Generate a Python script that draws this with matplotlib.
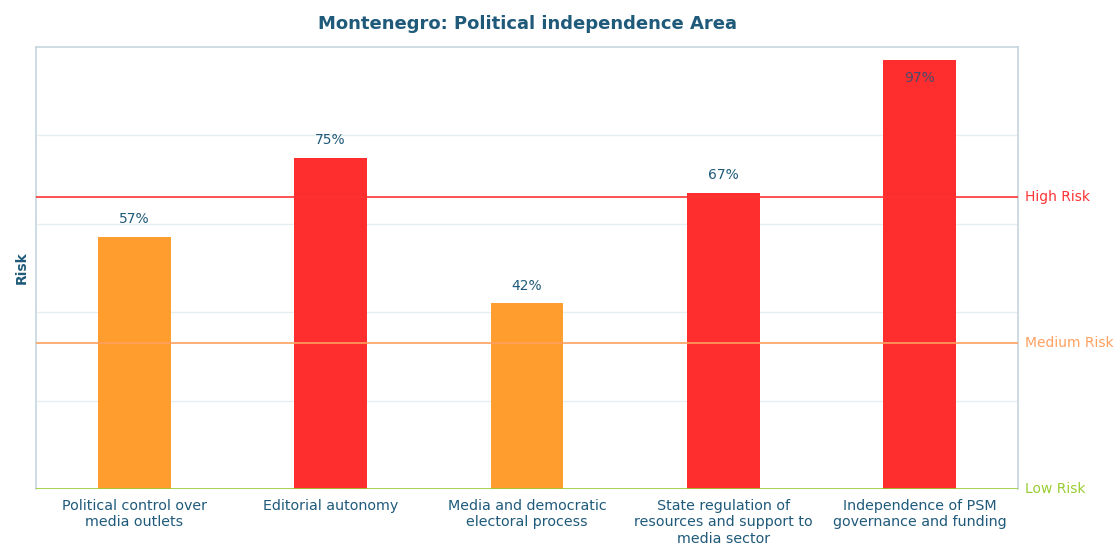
import matplotlib
matplotlib.use("Agg")
import matplotlib.pyplot as plt

categories = ["Political control over\nmedia outlets",
              "Editorial autonomy",
              "Media and democratic\nelectoral process",
              "State regulation of\nresources and support to\nmedia sector",
              "Independence of PSM\ngovernance and funding"]
values = [57, 75, 42, 67, 97]
risk_levels = [0, 33, 66]
risk_names = ["Low Risk", "Medium Risk", "High Risk"]
risk_colors = ["#9ACD32", "#FFA060", "#FF3333"]

text_col = "#1F5A7A"
bar_cols = ["#FF9E2F" if v <= 66 else "#FF2E2E" for v in values]

fig = plt.figure(figsize=(11.18, 5.48), dpi=100)
ax = fig.add_axes([36/1118, 1 - 489/548, 982/1118, 442/548])

x = list(range(len(values)))
ax.bar(x, values, width=0.37, color=bar_cols, zorder=3)
for xi, v in zip(x, values):
    if v + 6 > 100:
        ax.text(xi, v - 4, f"{v}%", ha="center", va="center", fontsize=10, color="#4A4A6A", zorder=4)
    else:
        ax.text(xi, v + 4, f"{v}%", ha="center", va="center", fontsize=10, color=text_col, zorder=4)

for lvl, name, col in zip(risk_levels, risk_names, risk_colors):
    ax.axhline(lvl, color=col, lw=1.2, zorder=4)
    ax.text(1.007, lvl / 100, name, transform=ax.transAxes, color=col, fontsize=10,
            ha="left", va="center", clip_on=False)

ax.set_xlim(-0.5, 4.5)
ax.set_ylim(0, 100)
ax.set_yticks([20, 40, 60, 80])
ax.set_yticklabels([])
ax.tick_params(axis="y", length=0)
ax.grid(axis="y", color="#E6EEF2", lw=1, zorder=0)
ax.set_xticks(x)
ax.set_xticklabels(categories, fontsize=10.3, color=text_col, linespacing=1.25)
ax.tick_params(axis="x", length=0, pad=7)
for s in ax.spines.values():
    s.set_color("#C5D5DF")
    s.set_linewidth(1.2)
ax.spines["bottom"].set_visible(False)

ax.set_ylabel("Risk", fontsize=10, fontweight="bold", color=text_col, labelpad=2)
ax.set_title("Montenegro: Political independence Area", fontsize=13, fontweight="bold",
             color=text_col, pad=13)

fig.savefig("out.png", dpi=100)
